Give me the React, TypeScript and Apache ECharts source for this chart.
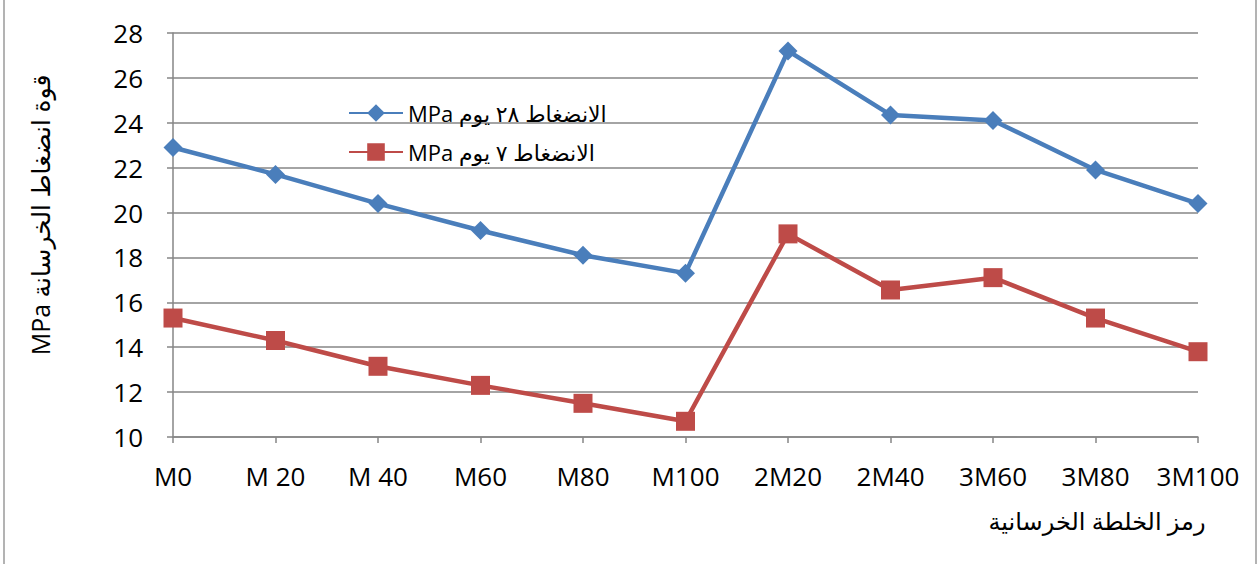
import React, { useEffect, useRef } from "react";
import * as echarts from "echarts";

const categories = ["M0", "M 20", "M 40", "M60", "M80", "M100", "2M20", "2M40", "3M60", "3M80", "3M100"];
const day28 = [22.9, 21.7, 20.4, 19.2, 18.1, 17.3, 27.2, 24.35, 24.1, 21.9, 20.4];
const day7 = [15.3, 14.3, 13.15, 12.3, 11.5, 10.7, 19.05, 16.55, 17.1, 15.3, 13.8];
const series28Name = "الانضغاط ٢٨ يوم MPa";
const series7Name = "الانضغاط ٧ يوم MPa";
const yTitle = "قوة انضغاط الخرسانة MPa";
const xTitle = "رمز الخلطة الخرسانية";

const FONT = "'Open Sans', 'DejaVu Sans', sans-serif";
const GRID = "#868686";

export default function App() {
  const ref = useRef<HTMLDivElement>(null);
  useEffect(() => {
    const chart = echarts.init(ref.current!, null, { renderer: "svg" });
    chart.setOption({
      animation: false,
      backgroundColor: "#ffffff",
      grid: { left: 173, right: 60, top: 33, bottom: 127, containLabel: false },
      legend: {
        orient: "vertical",
        left: 348,
        top: 102,
        padding: 0,
        itemWidth: 54,
        itemHeight: 22,
        itemGap: 17,
        textStyle: { fontFamily: FONT, fontSize: 22, color: "#000", padding: [0, 0, 0, 0] },
        formatter: (n: string) => "\u202B" + n + "\u202C",
        data: [series28Name, series7Name],
      },
      xAxis: {
        type: "category",
        data: categories,
        boundaryGap: false,
        axisLine: { lineStyle: { color: GRID, width: 1.5 } },
        axisTick: { show: true, length: 6, interval: 0, lineStyle: { color: GRID, width: 1.5 } },
        axisLabel: { fontFamily: FONT, fontSize: 26, color: "#000", margin: 26, interval: 0, hideOverlap: false },
        splitLine: { show: false },
      },
      yAxis: {
        type: "value",
        min: 10,
        max: 28,
        interval: 2,
        axisLine: { show: true, lineStyle: { color: GRID, width: 1.5 } },
        axisTick: { show: true, length: 6, lineStyle: { color: GRID, width: 1.5 } },
        axisLabel: { fontFamily: FONT, fontSize: 26, color: "#000", margin: 30 },
        splitLine: { show: true, lineStyle: { color: GRID, width: 1.5 } },
      },
      graphic: [
        {
          type: "rect",
          shape: { x: 4, y: -2, width: 1252, height: 570 },
          style: { fill: "none", stroke: "#9a9a9a", lineWidth: 1.5 },
          silent: true,
        },
        {
          type: "text",
          x: 40,
          y: 215,
          rotation: Math.PI / 2,
          style: {
            text: "\u202B" + yTitle + "\u202C",
            fontFamily: FONT,
            fontSize: 25,
            fill: "#000",
            align: "center",
            verticalAlign: "middle",
          },
        },
        {
          type: "text",
          x: 1097,
          y: 520,
          style: {
            text: xTitle,
            fontFamily: FONT,
            fontSize: 24,
            fill: "#000",
            align: "center",
            verticalAlign: "middle",
          },
        },
      ],
      series: [
        {
          name: series28Name,
          type: "line",
          data: day28,
          symbol: "diamond",
          symbolSize: 19,
          lineStyle: { color: "#4A7EBB", width: 4.5 },
          itemStyle: { color: "#4A7EBB" },
        },
        {
          name: series7Name,
          type: "line",
          data: day7,
          symbol: "rect",
          symbolSize: 19,
          lineStyle: { color: "#BE4B48", width: 4.5 },
          itemStyle: { color: "#BE4B48" },
        },
      ],
    });
    return () => chart.dispose();
  }, []);
  return (
    <div
      ref={ref}
      style={{ position: "fixed", left: 0, top: 0, width: 1258, height: 564 }}
    />
  );
}
